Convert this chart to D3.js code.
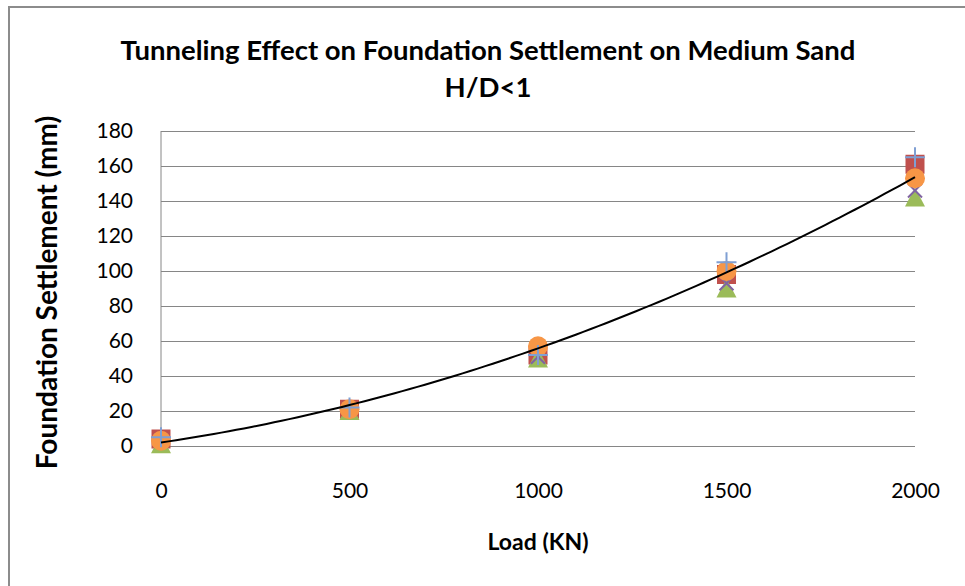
<!DOCTYPE html>
<html>
<head>
<meta charset="utf-8">
<script src="https://cdn.jsdelivr.net/npm/d3@7"></script>
<style>
  body { margin: 0; background: #fff; }
  text { font-family: Lato, "Open Sans", sans-serif; fill: #000; }
</style>
</head>
<body>
<div id="chart"></div>
<script>
const svgWidth = 965;
const svgHeight = 586;

// plot area inside the svg
const margin = { top: 131, right: 50, bottom: 140, left: 161 };
const width = svgWidth - margin.left - margin.right;
const height = svgHeight - margin.top - margin.bottom;

// data
const loads = [0, 500, 1000, 1500, 2000];
const squareSeries = [4, 21, 52, 98, 161];
const triangleSeries = [1, 20, 50, 90, 142];
const crossSeries = [3, 21, 51, 93, 146];
const circleSeries = [3, 21, 57, 100, 153];
const plusSeries = [5, 22, 52, 105, 165];

const xTicks = [0, 500, 1000, 1500, 2000];
const yTicks = [0, 20, 40, 60, 80, 100, 120, 140, 160, 180];

const series = [
  { name: "square", values: squareSeries, color: "#C0504D" },
  { name: "triangle", values: triangleSeries, color: "#9BBB59" },
  { name: "cross", values: crossSeries, color: "#8064A2" },
  { name: "circle", values: circleSeries, color: "#F79646" },
  { name: "plus", values: plusSeries, color: "#7F9FD3" }
];

const svg = d3.select("#chart")
  .append("svg")
  .attr("width", svgWidth)
  .attr("height", svgHeight);

// outer chart border (cut off by the picture on the right and bottom)
svg.append("rect")
  .attr("x", 9)
  .attr("y", 7)
  .attr("width", 1000)
  .attr("height", 700)
  .attr("fill", "none")
  .attr("stroke", "#8c8c8c")
  .attr("stroke-width", 2);

const chartGroup = svg.append("g")
  .attr("transform", `translate(${margin.left}, ${margin.top})`);

const xScale = d3.scaleLinear().domain([0, 2000]).range([0, width]);
const yScale = d3.scaleLinear().domain([0, 180]).range([height, 0]);

// horizontal gridlines
chartGroup.append("g")
  .call(d3.axisLeft(yScale).tickValues(yTicks).tickSize(-width).tickFormat(""))
  .call(g => g.select(".domain").remove())
  .call(g => g.selectAll("line").attr("stroke", "#868686"));

// vertical axis line
chartGroup.append("line")
  .attr("x1", 0).attr("x2", 0)
  .attr("y1", 0).attr("y2", height)
  .attr("stroke", "#868686");

// y tick labels
chartGroup.append("g")
  .call(d3.axisLeft(yScale).tickValues(yTicks).tickSize(0).tickPadding(28))
  .call(g => g.select(".domain").remove())
  .call(g => g.selectAll("text")
    .style("font-size", "21px")
    .style("font-family", "Lato"));

// x tick labels
chartGroup.append("g")
  .attr("transform", `translate(0, ${height})`)
  .call(d3.axisBottom(xScale).tickValues(xTicks).tickSize(0).tickPadding(37).tickFormat(d3.format("d")))
  .call(g => g.select(".domain").remove())
  .call(g => g.selectAll("text")
    .style("font-size", "21px")
    .style("font-family", "Lato"));

// markers
const markGroup = chartGroup.append("g");

function drawMarker(g, s) {
  const pts = loads.map((x, i) => [xScale(x), yScale(s.values[i])]);
  const sel = g.selectAll(null).data(pts).enter();
  if (s.name === "square") {
    sel.append("rect")
      .attr("x", d => d[0] - 9.5).attr("y", d => d[1] - 9.5)
      .attr("width", 19).attr("height", 19)
      .attr("fill", s.color);
  } else if (s.name === "triangle") {
    sel.append("path")
      .attr("d", d => `M${d[0]},${d[1] - 10}L${d[0] + 10},${d[1] + 9}L${d[0] - 10},${d[1] + 9}Z`)
      .attr("fill", s.color);
  } else if (s.name === "cross") {
    sel.append("path")
      .attr("d", d => `M${d[0] - 7},${d[1] - 7}L${d[0] + 7},${d[1] + 7}M${d[0] - 7},${d[1] + 7}L${d[0] + 7},${d[1] - 7}`)
      .attr("stroke", s.color).attr("stroke-width", 2).attr("fill", "none");
  } else if (s.name === "circle") {
    sel.append("circle")
      .attr("cx", d => d[0]).attr("cy", d => d[1])
      .attr("r", 10)
      .attr("fill", s.color);
  } else if (s.name === "plus") {
    sel.append("path")
      .attr("d", d => `M${d[0] - 10},${d[1]}L${d[0] + 10},${d[1]}M${d[0]},${d[1] - 10}L${d[0]},${d[1] + 10}`)
      .attr("stroke", s.color).attr("stroke-width", 2).attr("fill", "none");
  }
}

series.forEach(s => drawMarker(markGroup, s));

// polynomial (order 2) trendline fitted to the circle series, like Excel does
function fitQuadratic(xs, ys) {
  // normal equations for y = a + b x + c x^2
  const S = k => d3.sum(xs, x => Math.pow(x, k));
  const T = k => d3.sum(xs, (x, i) => Math.pow(x, k) * ys[i]);
  const A = [[S(0), S(1), S(2)], [S(1), S(2), S(3)], [S(2), S(3), S(4)]];
  const B = [T(0), T(1), T(2)];
  // gaussian elimination
  for (let i = 0; i < 3; i++) {
    for (let j = i + 1; j < 3; j++) {
      const f = A[j][i] / A[i][i];
      for (let k = i; k < 3; k++) A[j][k] -= f * A[i][k];
      B[j] -= f * B[i];
    }
  }
  const c = B[2] / A[2][2];
  const b = (B[1] - A[1][2] * c) / A[1][1];
  const a = (B[0] - A[0][1] * b - A[0][2] * c) / A[0][0];
  return x => a + b * x + c * x * x;
}

const trend = fitQuadratic(loads.map(x => x / 1000), circleSeries);
const trendPts = d3.range(0, 2001, 20);

chartGroup.append("path")
  .datum(trendPts)
  .attr("fill", "none")
  .attr("stroke", "#000")
  .attr("stroke-width", 2)
  .attr("d", d3.line()
    .x(d => xScale(d))
    .y(d => yScale(trend(d / 1000))));

// titles
svg.append("text")
  .attr("x", 488).attr("y", 60)
  .attr("text-anchor", "middle")
  .style("font-size", "27.5px").style("font-weight", "bold")
  .text("Tunneling Effect on Foundation Settlement on Medium Sand");

svg.append("text")
  .attr("x", 488).attr("y", 97)
  .attr("text-anchor", "middle")
  .style("font-size", "27.5px").style("font-weight", "bold")
  .text("H/D<1");

svg.append("text")
  .attr("x", margin.left + width / 2).attr("y", 550)
  .attr("text-anchor", "middle")
  .style("font-size", "23px").style("font-weight", "bold")
  .text("Load (KN)");

svg.append("text")
  .attr("transform", `translate(57, ${margin.top + height / 2 + 4}) rotate(-90)`)
  .attr("text-anchor", "middle")
  .style("font-size", "28px").style("font-weight", "bold")
  .text("Foundation Settlement (mm)");
</script>
</body>
</html>
